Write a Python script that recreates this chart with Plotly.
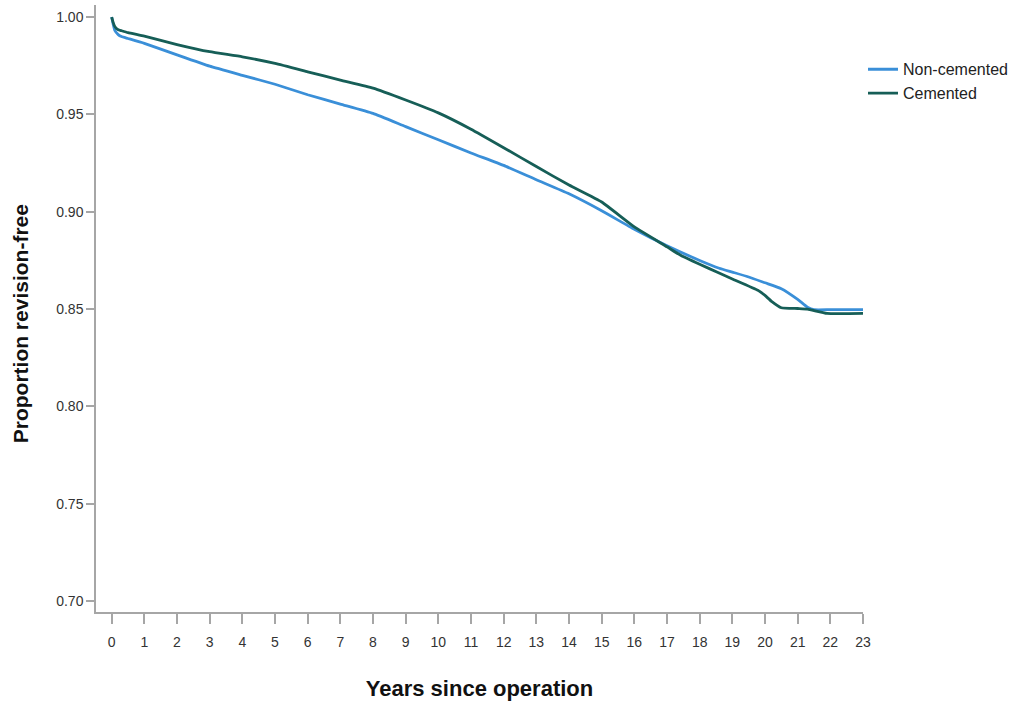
import plotly.graph_objects as go

# Years since operation
t_noncem = [0, 0.05, 0.1, 0.2, 0.3, 0.5, 1, 2, 3, 4, 5, 6, 7, 8, 9, 10, 11, 12, 13, 14, 15,
            16, 17, 18, 18.6, 19, 19.5, 20, 20.5, 21, 21.3, 21.5, 22, 23]
s_noncem = [1.000, 0.996, 0.993, 0.991, 0.990, 0.989, 0.9865, 0.9806, 0.9748, 0.9701, 0.9655,
            0.9601, 0.9553, 0.9505, 0.9437, 0.9370, 0.9302, 0.9238, 0.9164, 0.9092, 0.9005,
            0.8910, 0.8825, 0.8750, 0.8710, 0.8690, 0.8665, 0.8635, 0.8605, 0.8550, 0.8510,
            0.8497, 0.8497, 0.8497]

t_cem = [0, 0.05, 0.1, 0.2, 0.3, 0.5, 1, 2, 3, 4, 5, 6, 7, 8, 9, 10, 11, 12, 13, 14, 15,
         16, 17, 17.43, 18, 18.56, 19, 19.8, 20, 20.2, 20.5, 21, 21.3, 21.9, 23]
s_cem = [1.000, 0.997, 0.995, 0.9935, 0.993, 0.992, 0.9902, 0.9859, 0.9822, 0.9796, 0.9762,
         0.9719, 0.9676, 0.9635, 0.9574, 0.9508, 0.9424, 0.9329, 0.9232, 0.9137, 0.9050,
         0.8922, 0.8820, 0.8775, 0.8730, 0.8688, 0.8655, 0.8595, 0.8570, 0.8540, 0.8507,
         0.8503, 0.8500, 0.8478, 0.8478]

x_ticks = list(range(0, 24))
y_ticks = [0.70, 0.75, 0.80, 0.85, 0.90, 0.95, 1.00]

fig = go.Figure()
fig.add_trace(go.Scatter(x=t_noncem, y=s_noncem, mode="lines", name="Non-cemented",
                         line=dict(color="#3a8fd8", width=2.8, shape="spline", smoothing=0.4)))
fig.add_trace(go.Scatter(x=t_cem, y=s_cem, mode="lines", name="Cemented",
                         line=dict(color="#165e57", width=2.8, shape="spline", smoothing=0.4)))

axis_col = "#a6a6a6"
fig.update_layout(
    width=1024, height=702,
    margin=dict(l=96, r=161, t=5, b=90),
    paper_bgcolor="white", plot_bgcolor="white",
    font=dict(family="Liberation Sans, Arial, sans-serif", color="#333333"),
    legend=dict(x=1.0, y=0.922, xanchor="left", yanchor="top",
                font=dict(size=16, color="#222222"), bgcolor="rgba(0,0,0,0)",
                tracegroupgap=4, itemwidth=30),
    xaxis=dict(range=[-0.48, 23.0], tickvals=x_ticks, ticktext=[str(v) for v in x_ticks],
               showgrid=False, zeroline=False, showline=True, linecolor=axis_col, linewidth=1.5,
               ticks="outside", ticklen=10, tickwidth=1.5, tickcolor=axis_col,
               ticklabelstandoff=6,
               tickfont=dict(size=14, color="#333333"),
               title=dict(text="<b>Years since operation</b>", font=dict(size=22, color="#111111"),
                          standoff=32)),
    yaxis=dict(range=[0.6944, 1.0062], tickvals=y_ticks, ticktext=[f"{v:.2f}" for v in y_ticks],
               showgrid=False, zeroline=False, showline=True, linecolor=axis_col, linewidth=1.5,
               ticks="outside", ticklen=8, tickwidth=1.5, tickcolor=axis_col,
               tickfont=dict(size=14, color="#333333")),
    annotations=[dict(text="<b>Proportion revision-free</b>", xref="paper", yref="paper",
                      x=-0.0, y=0.474, xshift=-76, textangle=-90, showarrow=False,
                      xanchor="center", yanchor="middle",
                      font=dict(size=21, color="#111111"))],
)

fig.write_html("out.html")
